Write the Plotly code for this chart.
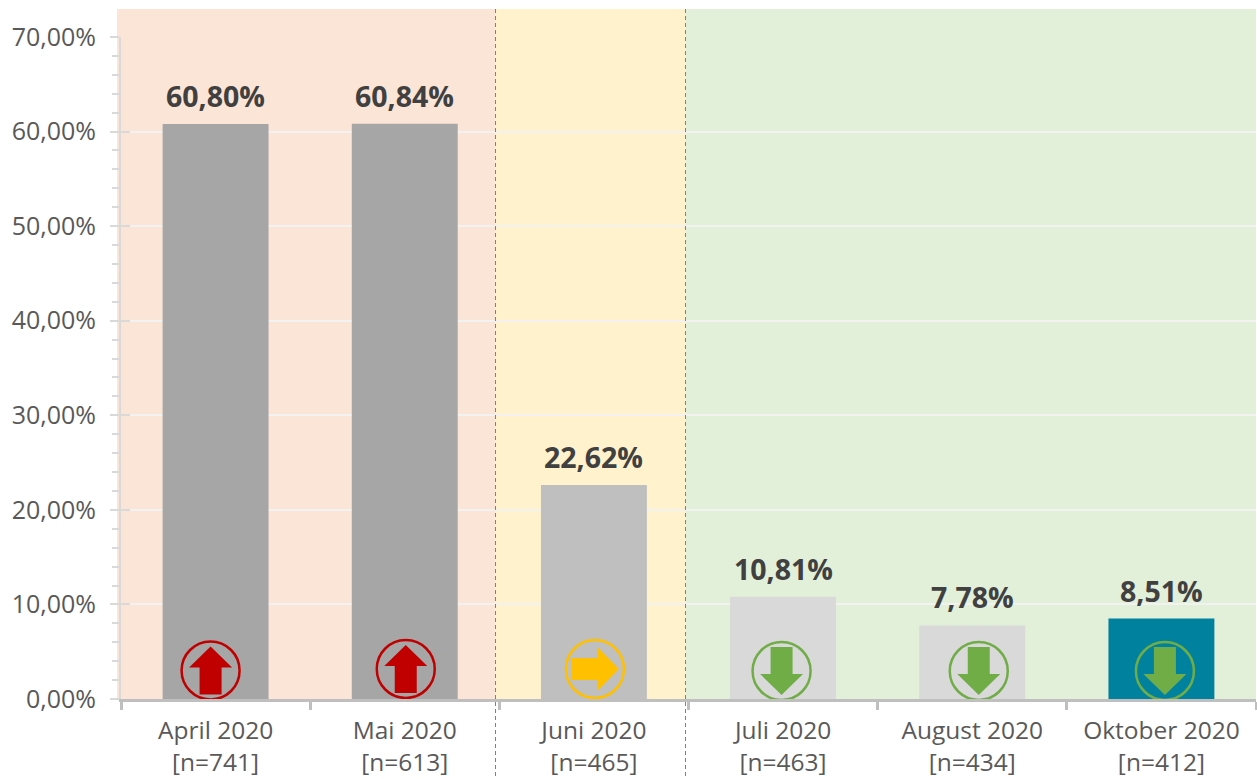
import plotly.graph_objects as go

months = ["April 2020", "Mai 2020", "Juni 2020", "Juli 2020", "August 2020", "Oktober 2020"]
sample_sizes = [741, 613, 465, 463, 434, 412]
values = [60.80, 60.84, 22.62, 10.81, 7.78, 8.51]
trends = ["up", "up", "right", "down", "down", "down"]
y_ticks = [0, 10, 20, 30, 40, 50, 60, 70]

bar_colors = ["#a6a6a6", "#a6a6a6", "#bfbfbf", "#d9d9d9", "#d9d9d9", "#00829f"]
trend_colors = {"up": "#c00000", "right": "#ffc000", "down": "#70ad47"}
icon_offsets = [(-5, 28.5), (1, 30), (1, 30), (-1.5, 28), (6.5, 28), (3.5, 28)]

W, H = 1257, 779
L, R, T, B = 121, 1, 37, 80
FONT = "Open Sans"


def de(v):
    return f"{v:.2f}".replace(".", ",") + "%"


def fx(px):
    return (px - L) / (W - L - R)


def fy(py):
    return (H - B - py) / (H - T - B)


ARROWS = {
    "up": [(-11, -24), (-11, 3), (-21.5, 3), (0, 24), (21.5, 3), (11, 3), (11, -24)],
    "down": [(-11, 24), (-11, -3), (-21.5, -3), (0, -24), (21.5, -3), (11, -3), (11, 24)],
    "right": [(-24, 11), (3, 11), (3, 21.5), (24, 0), (3, -21.5), (3, -11), (-24, -11)],
}

shapes = []
for x0, x1, color in [(117, 495.5, "#fbe5d6"), (495.5, 685.5, "#fff2cc"), (685.5, 1256, "#e2efd9")]:
    shapes.append(dict(type="rect", xref="paper", yref="paper", x0=fx(x0), x1=fx(x1),
                       y0=0, y1=fy(9), fillcolor=color, line_width=0, layer="below"))
for x in (495.5, 685.5):
    shapes.append(dict(type="line", xref="paper", yref="paper", x0=fx(x), x1=fx(x),
                       y0=fy(776), y1=fy(9), line=dict(color="#808080", width=1, dash="4px,3px"),
                       layer="above"))

for month, trend, (dx, dy) in zip(months, trends, icon_offsets):
    c = trend_colors[trend]
    r = 29
    shapes.append(dict(type="circle", xref="x", yref="y", xsizemode="pixel", ysizemode="pixel",
                       xanchor=month, yanchor=0, x0=dx - r, x1=dx + r, y0=dy - r, y1=dy + r,
                       line=dict(color=c, width=2.5), fillcolor="rgba(0,0,0,0)", layer="above"))
    pts = ARROWS[trend]
    path = "M " + " L ".join(f"{dx + a},{dy + b}" for a, b in pts) + " Z"
    shapes.append(dict(type="path", xref="x", yref="y", xsizemode="pixel", ysizemode="pixel",
                       xanchor=month, yanchor=0, path=path, fillcolor=c, line_width=0, layer="above"))

fig = go.Figure()
fig.add_bar(x=months, y=values, width=0.56, marker=dict(color=bar_colors, line_width=0),
            hoverinfo="skip")
# second y axis only draws the inner half of the major ticks
fig.add_scatter(x=months[:1], y=[0], yaxis="y2", mode="markers", marker_opacity=0, hoverinfo="skip")

annotations = [dict(x=m, y=v, text=f"<b>{de(v)}</b>", showarrow=False, yanchor="bottom", yshift=7,
                    font=dict(family=FONT, size=28.5, color="#404040"))
               for m, v in zip(months, values)]

fig.update_layout(
    width=W, height=H, autosize=False,
    margin=dict(l=L, r=R, t=T, b=B, pad=0),
    paper_bgcolor="white", plot_bgcolor="rgba(0,0,0,0)",
    showlegend=False, shapes=shapes, annotations=annotations,
    font=dict(family=FONT, size=24, color="#595959"),
    xaxis=dict(type="category", categoryorder="array", categoryarray=months,
               range=[-0.5, 5.5], tickmode="array", tickvals=months, automargin=False,
               ticktext=[f"{m}<br>[n={n}]" for m, n in zip(months, sample_sizes)],
               tickson="boundaries", ticks="outside", ticklen=8, tickwidth=3, tickcolor="#bfbfbf",
               showline=True, linecolor="#bfbfbf", linewidth=3, showgrid=False, zeroline=False,
               ticklabelstandoff=8,
               tickfont=dict(family=FONT, size=24.5, color="#595959")),
    yaxis=dict(range=[0, 70], tickmode="array", tickvals=y_ticks, automargin=False,
               ticktext=[de(v) for v in y_ticks], ticks="outside", ticklen=9, tickwidth=2,
               tickcolor="#d9d9d9", showline=True, linecolor="#d9d9d9", linewidth=2,
               showgrid=True, gridcolor="#f2f2f2", gridwidth=2, zeroline=False,
               ticklabelstandoff=9,
               tickfont=dict(family=FONT, size=25, color="#595959"),
               minor=dict(dtick=2, ticks="outside", ticklen=7, tickwidth=1.5, tickcolor="#d9d9d9",
                          showgrid=False)),
    yaxis2=dict(range=[0, 70], overlaying="y", side="left", tickmode="array", tickvals=y_ticks,
                ticks="inside", ticklen=9, tickwidth=2, tickcolor="#d9d9d9", showticklabels=False,
                showgrid=False, zeroline=False, showline=False),
)
fig.write_html("out.html", config={"displayModeBar": False},
               post_script="document.body.style.margin='0';document.body.style.overflow='hidden';")
